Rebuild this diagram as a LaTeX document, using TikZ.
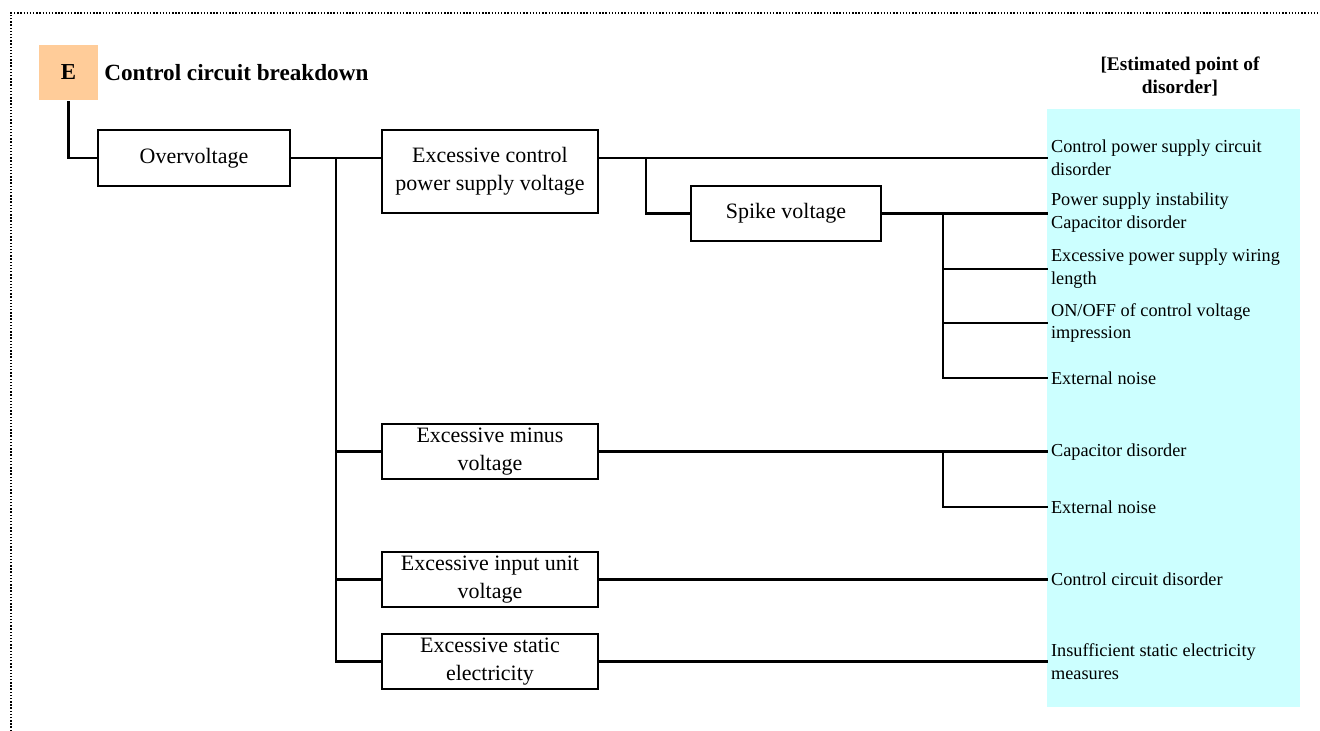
\documentclass[tikz,border=0pt]{standalone}
\usepackage{fontspec}
\setmainfont{Liberation Serif}
\usetikzlibrary{positioning}
\definecolor{causefill}{HTML}{FFCC99}
\definecolor{pointfill}{HTML}{CCFFFF}
\tikzset{
  causebox/.style={draw,line width=1.4pt,inner sep=0pt,align=center,
    font=\fontsize{12.5}{16}\selectfont,minimum height=1.1cm},
  pointtext/.style={anchor=west,inner sep=1pt,align=left,
    font=\fontsize{10.4}{13}\selectfont}
}
\begin{document}
\begin{tikzpicture}[x=0.02cm,y=-0.02cm,line width=1.5pt]
\useasboundingbox (0,0) rectangle (1320,731);
    %Marco punteado
    \draw[densely dotted,line width=0.8pt] (11,731) -- (11,13) -- (1320,13);

    %Columna de puntos estimados
    \fill[pointfill] (1047,109) rectangle (1300,707);
    \node[align=center,font=\fontsize{11}{13}\selectfont\bfseries] (head) at (1180,76.5) {[Estimated point of\\disorder]};

    %Titulo
    \node[fill=causefill,minimum width=1.18cm,minimum height=1.1cm,font=\fontsize{13}{15}\selectfont\bfseries] (E) at (68.5,72.5) {E};
    \node[anchor=west,inner sep=0pt,font=\fontsize{13.2}{15}\selectfont\bfseries] (title) at (103,73) {Control circuit breakdown};

    %Causas
    \node[causebox,minimum width=3.84cm,minimum height=1.12cm] (ovv) at (194,158) {Overvoltage};
    \node[causebox,minimum width=4.32cm,minimum height=1.66cm] (ctrl) at (490,171.5) {Excessive control\\power supply voltage};
    \node[causebox,minimum width=3.8cm] (spike) at (786,213.5) {Spike voltage};
    \node[causebox,minimum width=4.32cm] (minus) at (490,451.5) {Excessive minus\\voltage};
    \node[causebox,minimum width=4.32cm] (input) at (490,579.5) {Excessive input unit\\voltage};
    \node[causebox,minimum width=4.32cm] (static) at (490,661.5) {Excessive static\\electricity};

    %Puntos
    \node[pointtext] (p1) at (1048,158) {Control power supply circuit\\disorder};
    \node[pointtext] (p2) at (1048,213) {Power supply instability\\Capacitor disorder};
    \node[pointtext] (p3) at (1048,269) {Excessive power supply wiring\\length};
    \node[pointtext] (p4) at (1048,323) {ON/OFF of control voltage\\impression};
    \node[pointtext] (p5) at (1048,378) {External noise};
    \node[pointtext] (p6) at (1048,452) {Capacitor disorder};
    \node[pointtext] (p7) at (1048,507) {External noise};
    \node[pointtext] (p8) at (1048,579) {Control circuit disorder};
    \node[pointtext] (p9) at (1048,662) {Insufficient static electricity\\measures};

    %Lineas
    \coordinate (bus) at (336,158);
    \coordinate (br1) at (646,158);
    \coordinate (br2) at (943,213.5);
    \coordinate (br3) at (943,451.5);
    \draw (E.south) |- (ovv.west);
    \draw (ovv.east) -- (ovv.east -| ctrl.west);
    \foreach \n in {minus,input,static}{
        \draw (bus) |- (\n.west);
    }
    \draw (ovv.east -| ctrl.east) -- (ovv.east -| p1.west);
    \draw (br1) |- (spike.west);
    \draw (spike.east) -- (spike.east -| p2.west);
    \foreach \n in {p3,p4,p5}{
        \draw (br2) |- (\n.west);
    }
    \draw (minus.east) -- (minus.east -| p6.west);
    \draw (br3) |- (p7.west);
    \draw (input.east) -- (input.east -| p8.west);
    \draw (static.east) -- (static.east -| p9.west);
\end{tikzpicture}
\end{document}
